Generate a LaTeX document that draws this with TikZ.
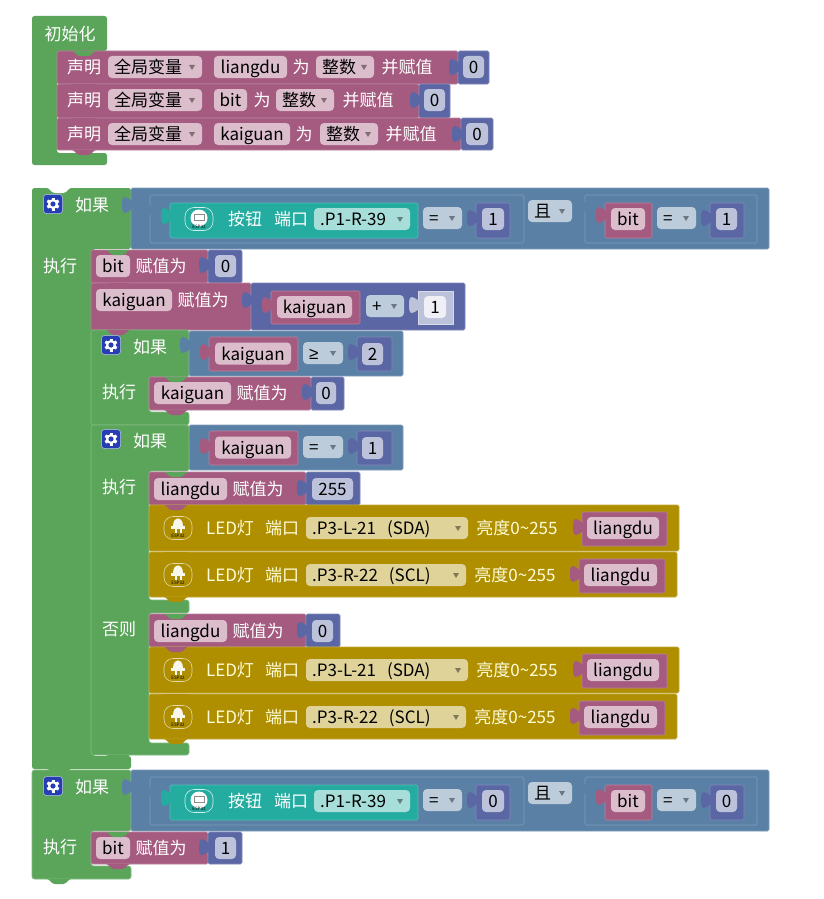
\documentclass[tikz,border=0pt]{standalone}
\usepackage{fontspec}
\setmainfont{Noto Sans CJK SC}
\newfontfamily\symfont{Liberation Sans}
\usepackage{xcolor}
\definecolor{logicgreen}{RGB}{91,165,91}
\definecolor{varpink}{RGB}{165,91,128}
\definecolor{mathpurple}{RGB}{91,103,165}
\definecolor{condblue}{RGB}{91,128,165}
\definecolor{btnteal}{RGB}{36,172,160}
\definecolor{ledgold}{RGB}{175,143,0}
\definecolor{pinkfield}{RGB}{219,189,204}
\definecolor{purplefield}{RGB}{189,194,219}
\definecolor{bluefield}{RGB}{189,204,219}
\definecolor{tealfield}{RGB}{167,222,217}
\definecolor{goldfield}{RGB}{223,211,153}
\definecolor{gearblue}{RGB}{38,62,180}
\tikzset{
  lbl/.style={text=white, inner sep=0pt, text height=13.5pt, text depth=.5pt},
  fieldbox/.style={rounded corners=4pt, inner sep=0pt, minimum height=22pt, text=black, text height=13.5pt, text depth=.5pt},
  droptxt/.style={inner sep=0pt, anchor=west, text=black, text height=13.5pt, text depth=.5pt},
  gearbox/.style={fill=gearblue, draw=white!70!gearblue, line width=.5pt, rounded corners=3pt, minimum size=19pt, inner sep=0pt},
  tinytxt/.style={inner sep=0pt, font=\fontsize{4.5}{5}\selectfont, text=black}
}
% plain block
\newcommand{\blk}[5]{\path[fill=#1, draw=#1!78!white, line width=.6pt, rounded corners=1.5pt] (#2,#3) rectangle (#4,#5);}
% value tab on the left edge of a block
\newcommand{\knob}[3]{\path[fill=#1] (#2+1,#3-4) .. controls (#2-2,#3-6) and (#2-4,#3-8) .. (#2-6,#3-8) .. controls (#2-9,#3-8) and (#2-9,#3-3) .. (#2-9,#3) .. controls (#2-9,#3+3) and (#2-9,#3+8) .. (#2-6,#3+8) .. controls (#2-4,#3+8) and (#2-2,#3+6) .. (#2+1,#3+4) -- cycle;}
% statement tab hanging under a block
\newcommand{\notch}[3]{\path[fill=#1] (#2+15,#3) .. controls (#2+18,#3) and (#2+19,#3+5) .. (#2+23,#3+5) -- (#2+31,#3+5) .. controls (#2+35,#3+5) and (#2+36,#3) .. (#2+39,#3) -- cycle;}
% plain field: name, fill, left, right, y, text
\newcommand{\valfield}[6]{\node[fieldbox, fill=#2, minimum width=((#4)-(#3))*1pt] (#1) at ({((#3)+(#4))/2},#5) {#6};}
% dropdown field: name, fill, left, right, y, text
\newcommand{\dropfield}[6]{%
  \path[fill=#2, rounded corners=4pt] (#3,#5-11) rectangle (#4,#5+11);
  \node[droptxt] (#1) at (#3+6,#5) {#6};
  \path[fill=#2!58!black] (#4-13,#5-2) -- (#4-7,#5-2) -- (#4-10,#5+3) -- cycle;}
\newcommand{\gearicon}[3]{%
  \node[gearbox] (#1) at (#2,#3) {};
  \fill[white] (#2,#3) circle (5);
  \foreach \ang in {0,60,...,300} \fill[white, rotate around={\ang:(#2,#3)}] (#2-1.5,#3-6.5) rectangle (#2+1.5,#3);
  \fill[gearblue] (#2,#3) circle (2.6);}
\newcommand{\btnicon}[3]{%
  \node[draw=white!80!btnteal, line width=.6pt, rounded corners=9pt, minimum width=28pt, minimum height=23pt, inner sep=0pt] (#1) at (#2,#3) {};
  \fill[white] (#2,#3-1) circle (8.5);
  \draw[black!45, line width=.5pt] (#2-5,#3-5) rectangle (#2+5,#3+1);
  \node[tinytxt] (#1txt) at (#2,#3+8) {ESP32};}
\newcommand{\ledicon}[3]{%
  \node[draw=white!65!ledgold, line width=.6pt, rounded corners=9pt, minimum width=28pt, minimum height=23pt, inner sep=0pt] (#1) at (#2,#3) {};
  \fill[white!92!ledgold] (#2-5,#3-2) .. controls (#2-5,#3-12) and (#2+5,#3-12) .. (#2+5,#3-2) -- cycle;
  \fill[white!92!ledgold] (#2-7,#3-2) rectangle (#2+7,#3+1);
  \fill[white!92!ledgold] (#2-3.5,#3+1) rectangle (#2-1.5,#3+5);
  \fill[white!92!ledgold] (#2+1.5,#3+1) rectangle (#2+3.5,#3+5);
  \node[tinytxt] (#1txt) at (#2,#3+8) {ESP32};}
% condition bar of the two outer tests
\newcommand{\condbar}[4]{%
  \blk{condblue}{131}{#2}{769}{#2+61}
  \knob{condblue}{131}{#2+17}
  \blk{condblue}{150}{#2+7}{524}{#2+55}
  \knob{condblue}{150}{#2+22}
  \blk{btnteal}{170}{#2+15}{418}{#2+50}
  \knob{btnteal}{170}{#2+28}
  \btnicon{#1btn}{199}{#2+31}
  \node[lbl] (#1key) at (245,#2+31) {按钮};
  \node[lbl] (#1port) at (291,#2+31) {端口};
  \dropfield{#1pin}{tealfield}{314}{410}{#2+31}{.P1-R-39}
  \dropfield{#1eq}{bluefield}{423}{462}{#2+30}{=}
  \blk{mathpurple}{476}{#2+15}{510}{#2+50}
  \knob{mathpurple}{476}{#2+30}
  \valfield{#1num}{purplefield}{482}{504}{#2+31}{#3}
  \dropfield{#1and}{bluefield}{528}{572}{#2+23}{且}
  \blk{condblue}{585}{#2+7}{757}{#2+55}
  \knob{condblue}{585}{#2+19}
  \blk{varpink}{605}{#2+15}{652}{#2+50}
  \knob{varpink}{605}{#2+27}
  \valfield{#1bit}{pinkfield}{611}{645}{#2+31}{bit}
  \dropfield{#1eqb}{bluefield}{657}{696}{#2+30}{=}
  \blk{mathpurple}{710}{#2+15}{744}{#2+50}
  \knob{mathpurple}{710}{#2+30}
  \valfield{#1numb}{purplefield}{716}{737}{#2+31}{#4}}
\begin{document}
\begin{tikzpicture}[x=1pt, y=-1pt, font=\fontsize{17}{19}\selectfont]
  \useasboundingbox[fill=white] (0,0) rectangle (823,899);
  % init block
  \path[fill=logicgreen, rounded corners=2.5pt] (32,16) -- (107,16) -- (107,51) -- (57,51) -- (57,153) -- (107,153) -- (107,165) -- (32,165) -- cycle;
  \node[lbl] (inittitle) at (70,34) {初始化};
  \foreach \rn/\ya/\yb/\varname/\vx/\wx/\tx/\sx/\ex/\kx in {
    da/51/84/liangdu/287/301/316/407/458/489,
    db/84/118/bit/247/262/276/368/419/450,
    dc/118/150/kaiguan/290/304/320/411/461/493}{
    \blk{varpink}{57}{\ya}{\ex}{\yb}
    \blk{mathpurple}{\ex}{\ya}{\kx}{\yb}
    \knob{mathpurple}{\ex}{\ya+16}
    \pgfmathsetmacro{\yc}{\ya+16}
    \node[lbl] (\rn head) at (84,\yc) {声明};
    \dropfield{\rn scope}{pinkfield}{108}{202}{\yc}{全局变量}
    \valfield{\rn var}{pinkfield}{214}{\vx}{\yc}{\varname}
    \node[lbl] (\rn as) at (\wx,\yc) {为};
    \dropfield{\rn type}{pinkfield}{\tx}{\tx+58}{\yc}{整数}
    \node[lbl] (\rn set) at (\sx,\yc) {并赋值};
    \valfield{\rn num}{purplefield}{\ex+5}{\kx-5}{\yc}{0}
  }
  \notch{logicgreen}{57}{51}
  \notch{varpink}{57}{84}
  \notch{varpink}{57}{118}
  \notch{varpink}{57}{150}

  % first outer test
  \path[fill=logicgreen, rounded corners=2.5pt] (32,188) -- (131,188) -- (131,249) -- (93,249) -- (93,756) -- (131,756) -- (131,769) -- (32,769) -- cycle;
  \notch{white}{32}{188}
  \gearicon{gearA}{53}{204}
  \node[lbl] (ifA) at (92,205) {如果};
  \node[lbl] (doA) at (60,266) {执行};
  \condbar{ca}{188}{1}{1}
  % bit row
  \blk{varpink}{91}{250}{208}{283}
  \blk{mathpurple}{208}{250}{242}{283}
  \knob{mathpurple}{208}{265}
  \valfield{bitvar}{pinkfield}{96}{130}{266}{bit}
  \node[lbl] (bitset) at (161,266) {赋值为};
  \valfield{bitnum}{purplefield}{215}{236}{266}{0}
  % kaiguan row
  \blk{varpink}{91}{283}{251}{330}
  \blk{mathpurple}{251}{283}{465}{330}
  \knob{mathpurple}{251}{300}
  \valfield{kgvar}{pinkfield}{96}{172}{300}{kaiguan}
  \node[lbl] (kgset) at (203,300) {赋值为};
  \blk{varpink}{271}{291}{360}{324}
  \knob{varpink}{271}{305}
  \valfield{kgsum}{pinkfield}{277}{352}{307}{kaiguan}
  \dropfield{kgplus}{bluefield}{366}{404}{306}{+}
  \path[fill=purplefield, draw=white!40!purplefield, line width=.5pt] (418,291) rectangle (453,324);
  \knob{purplefield}{418}{305}
  \valfield{kgone}{white!75!purplefield}{424}{446}{307}{1}
  \notch{logicgreen}{91}{250}
  \notch{varpink}{91}{283}

  % inner test, kaiguan >= 2
  \path[fill=logicgreen, draw=logicgreen!78!white, line width=.6pt, rounded corners=2.5pt] (91,330) -- (189,330) -- (189,377) -- (149,377) -- (149,412) -- (189,412) -- (189,425) -- (91,425) -- cycle;
  \notch{varpink}{91}{330}
  \gearicon{gearB}{111}{345}
  \node[lbl] (ifB) at (150,347) {如果};
  \node[lbl] (doB) at (119,392) {执行};
  \foreach \rn/\yt/\sym/\num in {gea/331/{\symfont ≥}/2, eqa/425/=/1}{
    \blk{condblue}{189}{\yt}{403}{\yt+45}
    \knob{condblue}{189}{\yt+14}
    \blk{varpink}{209}{\yt+6}{298}{\yt+40}
    \knob{varpink}{209}{\yt+21}
    \valfield{\rn var}{pinkfield}{215}{291}{\yt+22.5}{kaiguan}
    \dropfield{\rn op}{bluefield}{303}{343}{\yt+22}{\sym}
    \blk{mathpurple}{357}{\yt+6}{392}{\yt+40}
    \knob{mathpurple}{357}{\yt+21}
    \valfield{\rn num}{purplefield}{362}{383}{\yt+23}{\num}
  }
  \blk{varpink}{149}{377}{311}{410}
  \blk{mathpurple}{311}{377}{344}{410}
  \knob{mathpurple}{311}{392}
  \valfield{kgzero}{pinkfield}{154}{231}{393}{kaiguan}
  \node[lbl] (kgzeroset) at (262,393) {赋值为};
  \valfield{kgzeronum}{purplefield}{316}{336}{393}{0}
  \notch{logicgreen}{149}{377}
  \notch{varpink}{149}{410}

  % inner test, kaiguan = 1
  \path[fill=logicgreen, draw=logicgreen!78!white, line width=.6pt, rounded corners=2.5pt] (91,425) -- (189,425) -- (189,471) -- (149,471) -- (149,600) -- (189,600) -- (189,613) -- (149,613) -- (149,743) -- (189,743) -- (189,755) -- (91,755) -- cycle;
  \notch{logicgreen}{91}{412}
  \gearicon{gearC}{111}{439}
  \node[lbl] (ifC) at (150,441) {如果};
  \node[lbl] (doC) at (119,487) {执行};
  \node[lbl] (elseC) at (119,629) {否则};
  \foreach \rn/\yt/\eqx/\ex/\xa/\xb/\val in {
    ona/472/306/360/312/353/255,
    ofa/614/306/340/312/333/0}{
    \blk{varpink}{149}{\yt}{\eqx}{\yt+33}
    \blk{mathpurple}{\eqx}{\yt}{\ex}{\yt+33}
    \knob{mathpurple}{\eqx}{\yt+16}
    \valfield{\rn var}{pinkfield}{154}{227}{\yt+17}{liangdu}
    \node[lbl] (\rn set) at (258,\yt+17) {赋值为};
    \valfield{\rn num}{purplefield}{\xa}{\xb}{\yt+17}{\val}
  }
  \foreach \rn/\ya/\yb/\xe/\port/\xd/\xl/\xp/\xq in {
    la/505/551/679/{.P3-L-21\hspace*{11pt}(SDA)}/468/517/582/667,
    lb/552/597/677/{.P3-R-22\hspace*{11pt}(SCL)}/466/515/579/665,
    lc/647/693/679/{.P3-L-21\hspace*{11pt}(SDA)}/468/517/582/667,
    ld/694/739/677/{.P3-R-22\hspace*{11pt}(SCL)}/466/515/579/665}{
    \blk{ledgold}{149}{\ya}{\xe}{\yb}
    \pgfmathsetmacro{\yc}{\ya+23}
    \ledicon{\rn icon}{178}{\yc}
    \node[lbl, text=white!85!yellow] (\rn led) at (230,\yc) {LED灯};
    \node[lbl, text=white!85!yellow] (\rn port) at (282,\yc) {端口};
    \dropfield{\rn pin}{goldfield}{306}{\xd}{\yc}{\port}
    \node[lbl, text=white!85!yellow] (\rn lum) at (\xl,\yc) {亮度0\textasciitilde 255};
    \blk{varpink}{\xp}{\ya+7}{\xq}{\ya+41}
    \knob{varpink}{\xp}{\yc-1}
    \valfield{\rn var}{pinkfield}{\xp+5}{\xq-8}{\yc}{liangdu}
  }
  \notch{logicgreen}{149}{472}
  \notch{varpink}{149}{505}
  \notch{ledgold}{149}{552}
  \notch{ledgold}{149}{597}
  \notch{logicgreen}{149}{614}
  \notch{varpink}{149}{647}
  \notch{ledgold}{149}{694}
  \notch{ledgold}{149}{739}
  \notch{logicgreen}{91}{755}

  % second outer test
  \path[fill=logicgreen, draw=logicgreen!78!white, line width=.6pt, rounded corners=2.5pt] (32,770) -- (131,770) -- (131,831) -- (91,831) -- (91,866) -- (131,866) -- (131,879) -- (32,879) -- cycle;
  \notch{logicgreen}{32}{769}
  \notch{logicgreen}{32}{879}
  \gearicon{gearD}{53}{786}
  \node[lbl] (ifD) at (92,787) {如果};
  \node[lbl] (doD) at (60,847) {执行};
  \condbar{cb}{770}{0}{0}
  \blk{varpink}{91}{832}{208}{864}
  \blk{mathpurple}{208}{832}{242}{864}
  \knob{mathpurple}{208}{847}
  \valfield{bitvarb}{pinkfield}{96}{130}{848}{bit}
  \node[lbl] (bitsetb) at (161,848) {赋值为};
  \valfield{bitnumb}{purplefield}{215}{236}{848}{1}
  \notch{logicgreen}{91}{832}
  \notch{varpink}{91}{864}
\end{tikzpicture}
\end{document}
